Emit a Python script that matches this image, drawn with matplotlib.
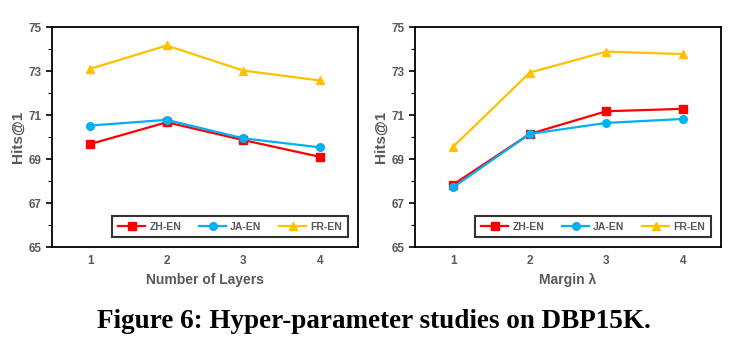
import numpy as np
import matplotlib
matplotlib.use("Agg")
import matplotlib.pyplot as plt

x_vals = [1, 2, 3, 4]
series_names = ["ZH-EN", "JA-EN", "FR-EN"]

layers_zh = [69.68, 70.67, 69.86, 69.10]
layers_ja = [70.52, 70.78, 69.94, 69.53]
layers_fr = [73.10, 74.16, 73.02, 72.57]

margin_zh = [67.84, 70.14, 71.17, 71.28]
margin_ja = [67.72, 70.14, 70.64, 70.82]
margin_fr = [69.56, 72.93, 73.88, 73.77]

y_major = [65, 67, 69, 71, 73, 75]
y_minor = [66, 68, 70, 72, 74]

xlabels = ["Number of Layers", "Margin \u03bb"]
caption = "Figure 6: Hyper-parameter studies on DBP15K."

colors = ["#FF0000", "#00B0F0", "#FFC000"]
markers = ["s", "o", "^"]
gray = "#595959"


def draw(ax, data, xlabel):
    for vals, name, c, m in zip(data, series_names, colors, markers):
        ax.plot(x_vals, vals, color=c, marker=m, markersize=5.5,
                linewidth=1.6, label=name)
    ax.set_xlim(0.5, 4.5)
    ax.set_ylim(65, 75)
    ax.set_xticks(x_vals)
    ax.set_yticks(y_major)
    ax.set_yticks(y_minor, minor=True)
    ax.tick_params(axis="x", length=0, pad=6, labelsize=8.5, labelcolor=gray)
    ax.tick_params(axis="y", which="major", length=4, width=1.2,
                   direction="out", labelsize=8.5, labelcolor=gray)
    ax.tick_params(axis="y", which="minor", length=3, width=0.8,
                   direction="out")
    for lab in ax.get_xticklabels() + ax.get_yticklabels():
        lab.set_fontweight("bold")
    for s in ax.spines.values():
        s.set_linewidth(1.3)
        s.set_color("black")
    ax.set_xlabel(xlabel, fontsize=10, fontweight="bold", color=gray, labelpad=4)
    ax.set_ylabel("Hits@1", fontsize=11, fontweight="bold", color=gray, labelpad=3)
    leg = ax.legend(loc="lower right", ncol=3,
                    prop={"weight": "bold", "size": 7.5},
                    frameon=True, fancybox=False, edgecolor="black",
                    handlelength=2.6, columnspacing=1.7, handletextpad=0.4,
                    borderpad=0.55, bbox_to_anchor=(0.985, 0.02))
    leg.get_frame().set_linewidth(1.5)
    for t in leg.get_texts():
        t.set_color(gray)


plt.rcParams["font.family"] = ["Liberation Sans", "DejaVu Sans"]

fig = plt.figure(figsize=(7.47, 3.54), dpi=100)
ax1 = fig.add_axes([52 / 747, 1 - 247 / 354, 306 / 747, 220 / 354])
ax2 = fig.add_axes([415 / 747, 1 - 247 / 354, 306 / 747, 220 / 354])

draw(ax1, [layers_zh, layers_ja, layers_fr], xlabels[0])
draw(ax2, [margin_zh, margin_ja, margin_fr], xlabels[1])

fig.text(0.5, 1 - 321 / 354, caption, ha="center", va="center",
         fontsize=19.5, fontweight="bold", family=["Liberation Serif", "DejaVu Serif"])

fig.savefig("out.png", dpi=100)
